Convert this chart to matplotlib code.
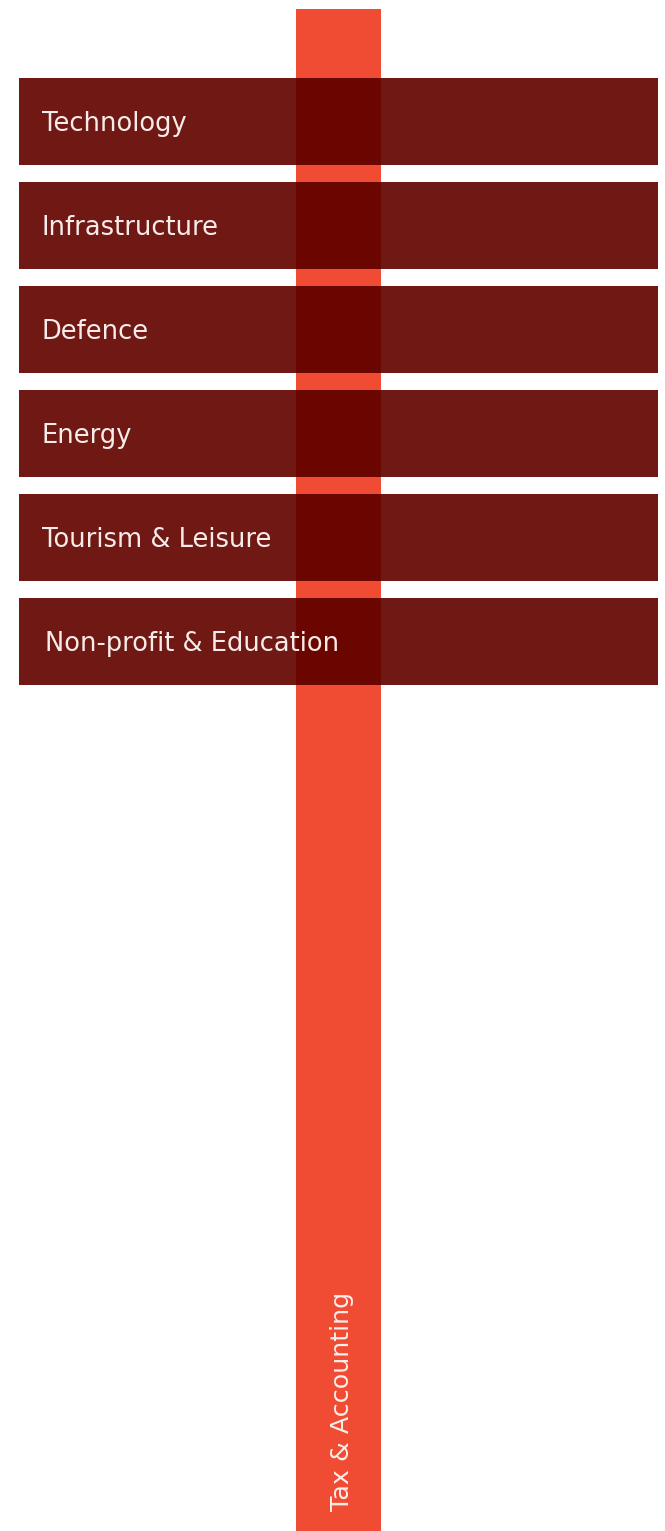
import matplotlib.pyplot as plt

# sectors crossing the main practice column
sectors = ["Technology", "Infrastructure", "Defence", "Energy",
           "Tourism & Leisure", "Non-profit & Education"]
sector_start = [19, 19, 19, 19, 19, 19]
sector_end = [658, 658, 658, 658, 658, 658]

practice = "Tax & Accounting"
practice_left = 296
practice_right = 381
practice_top = 9
practice_bottom = 1531

W, H = 665, 1531
plt.rcParams['font.family'] = ['DejaVu Sans']
fig = plt.figure(figsize=(W / 100, H / 100), dpi=100)
ax = fig.add_axes([0, 0, 1, 1])
ax.set_xlim(0, W)
ax.set_ylim(H, 0)
ax.axis("off")

# vertical column
ax.bar(practice_left, practice_bottom - practice_top, width=practice_right - practice_left,
       bottom=practice_top, align="edge", color="#f04b33", zorder=1)
ax.text((practice_left + practice_right) / 2 + 3, 1511, practice, rotation=90,
        ha="center", va="bottom", color="#fbeeea", fontsize=18.3, zorder=5)

# horizontal sector bars
row_top = 78
row_h = 87
row_step = 104
tops = [row_top + i * row_step for i in range(len(sectors))]
widths = [e - s for s, e in zip(sector_start, sector_end)]
ax.barh(tops, widths, left=sector_start, height=row_h, align="edge",
        color="#701814", zorder=2)
# darker overlap with the column
ax.barh(tops, [practice_right - practice_left] * len(tops), left=practice_left,
        height=row_h, align="edge", color="#6b0500", zorder=3)

for i, (name, t) in enumerate(zip(sectors, tops)):
    x = sector_start[i] + 23 if i < len(sectors) - 1 else sector_start[i] + 26
    ax.text(x, t + 53, name, ha="left", va="baseline",
            color="#f8ecea", fontsize=18.5, zorder=5)

fig.savefig("out.png", dpi=100, facecolor="white")
